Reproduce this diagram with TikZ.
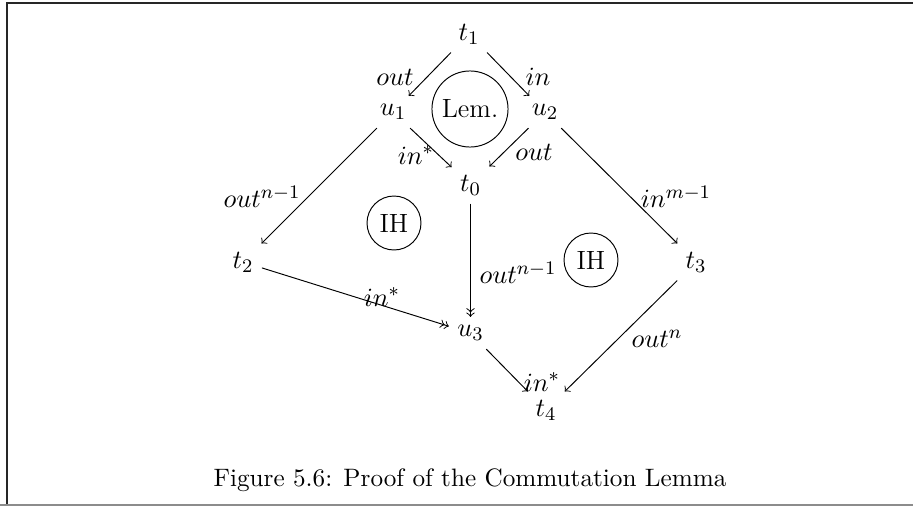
\documentclass[tikz,border=0pt]{standalone}
\begin{document}
\begin{tikzpicture}[x=0.4167pt,y=-0.4167pt,>=to,
  every node/.style={font=\fontsize{11}{13}\selectfont},
  lab/.style={inner sep=1pt},
  ring/.style={draw,circle,inner sep=0pt}]
\useasboundingbox (0,0) rectangle (913,507);
\draw[line width=0.8pt,black!85] (913,3) -- (7,3) -- (7,505);
\draw[black!45,line width=0.6pt] (0,505) -- (913,505);
% terms
\node (t1) at (469,34) {$t_1$};
\node (u1) at (393,112) {$u_1$};
\node (u2) at (545,112) {$u_2$};
\node (t0) at (470.5,185) {$t_0$};
\node (t2) at (243,262) {$t_2$};
\node (t3) at (696,262) {$t_3$};
\node (u3) at (470.5,333) {$u_3$};
\node (t4) at (546,410) {$t_4$};
% circles
\node[ring,minimum size=31.7pt] (lem) at (470,109) {Lem.};
\node[ring,minimum size=22.5pt] (ih1) at (394,223) {IH};
\node[ring,minimum size=22.5pt] (ih2) at (591,260) {IH};
% arrows
\draw[->] (t1) -- (u1);
\draw[->] (t1) -- (u2);
\draw[->] (u1) -- (t0);
\draw[->] (u2) -- (t0);
\draw[->] (u1) -- (t2);
\draw[->] (u2) -- (t3);
\draw[->>] (t0) -- (u3);
\draw[->>] (t2) -- (u3);
\draw[->] (u3) -- (t4);
\draw[->] (t3) -- (t4);
% labels
\node[lab] (l1) at (395,77) {$out$};
\node[lab] (l2) at (538,77) {$in$};
\node[lab] (l3) at (416,155) {$in^*$};
\node[lab] (l4) at (534,152) {$out$};
\node[lab] (l5) at (262,197) {$out^{n-1}$};
\node[lab] (l6) at (676,197) {$in^{m-1}$};
\node[lab] (l7) at (518,273) {$out^{n-1}$};
\node[lab] (l8) at (382,297) {$in^*$};
\node[lab] (l9) at (542,382) {$in^*$};
\node[lab] (l10) at (657,339) {$out^n$};
% caption
\node[font=\fontsize{10.5}{12.5}\selectfont] (cap) at (470,480) {Figure 5.6: Proof of the Commutation Lemma};
\end{tikzpicture}
\end{document}
